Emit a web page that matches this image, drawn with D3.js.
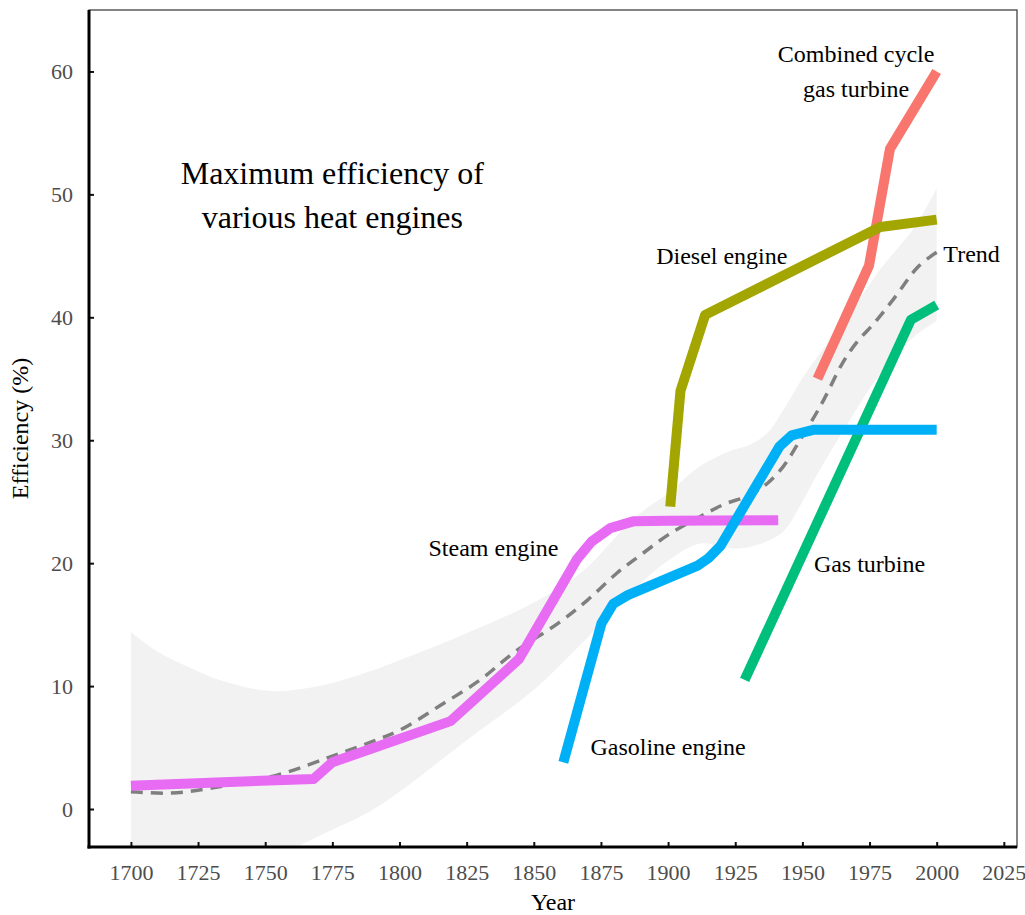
<!DOCTYPE html>
<html>
<head>
<meta charset="utf-8">
<script src="https://cdn.jsdelivr.net/npm/d3@7"></script>
<style>
	body { margin: 0; background: #fff; }
	svg text { font-family: "Liberation Serif", "Times New Roman", serif; }
</style>
</head>
<body>
<div id="main"></div>
<script>

// engine records, [year, efficiency %]
var steam = [[1700, 1.9], [1768, 2.45], [1775, 3.8], [1819, 7.15], [1844.5, 12.2], [1866, 20.3], [1871.5, 21.75], [1878.5, 22.85], [1887, 23.4], [1900, 23.45], [1941, 23.5]]
var gasoline = [[1861, 3.8], [1875.2, 15.1], [1879.6, 16.7], [1885, 17.4], [1911, 19.8], [1915, 20.4], [1919.5, 21.4], [1941.5, 29.5], [1946, 30.4], [1954, 30.85], [2000, 30.85]]
var diesel = [[1900.8, 24.6], [1904.6, 34.0], [1913.8, 40.2], [1979, 47.35], [2000, 47.95]]
var combined = [[1955.6, 35.0], [1974.8, 44.2], [1982.6, 53.7], [2000, 60.0]]
var gasTurbine = [[1928.5, 10.5], [1990.4, 39.8], [2000, 41.0]]

// smoothed trend and its band
var trend = [[1700, 1.4], [1715, 1.3], [1730, 1.7], [1755, 2.8], [1775, 4.3], [1790, 5.5], [1800, 6.4], [1815, 8.4], [1830, 10.5], [1843, 12.8], [1859, 15.1], [1870, 17.0], [1881, 19.2], [1890, 20.7], [1900, 22.3], [1912, 23.8], [1921, 24.8], [1930, 25.5], [1937, 26.5], [1943, 27.9], [1948, 29.6], [1957, 32.9], [1965, 36.3], [1970, 37.9], [1977, 39.6], [1984, 41.5], [1993, 44.1], [2000, 45.3]]
var bandYears = [1700, 1710, 1721, 1733, 1752, 1770, 1789, 1800, 1825, 1850, 1868, 1887, 1900, 1912, 1924, 1930, 1937, 1943, 1949, 1955, 1967, 1979, 1992, 2000]
var bandUpper = [14.4, 12.8, 11.6, 10.5, 9.6, 10.0, 11.2, 12.1, 14.3, 16.8, 19.3, 23.6, 25.7, 27.9, 29.2, 29.6, 30.6, 32.5, 34.7, 36.6, 40.1, 43.9, 47.4, 50.5]
var bandLower = [-11.6, -10.0, -8.6, -6.9, -4.2, -2.2, -0.2, 1.4, 5.6, 9.7, 13.5, 17.8, 20.2, 21.6, 21.2, 21.3, 21.8, 22.6, 24.6, 27.0, 31.4, 35.4, 38.5, 39.7]

var xTicks = [1700, 1725, 1750, 1775, 1800, 1825, 1850, 1875, 1900, 1925, 1950, 1975, 2000, 2025]
var yTicks = [0, 10, 20, 30, 40, 50, 60]

var seriesNames = ["Combined cycle gas turbine", "Diesel engine", "Gas turbine", "Steam engine", "Gasoline engine"]
var seriesData = [combined, diesel, gasTurbine, steam, gasoline]
var seriesColors = ["#F8766D", "#A3A500", "#00BF7D", "#E76BF3", "#00B0F6"]

// annotations: lines of text, centre year, centre value
var labels = [
	{ lines: ["Maximum efficiency of", "various heat engines"], x: 1775, y: 50, size: 32, lh: 44 },
	{ lines: ["Combined cycle", "gas turbine"], x: 1970, y: 60, size: 24, lh: 35 },
	{ lines: ["Diesel engine"], x: 1920, y: 45, size: 24, lh: 0 },
	{ lines: ["Trend"], x: 2013, y: 45.2, size: 24, lh: 0 },
	{ lines: ["Steam engine"], x: 1835, y: 21.3, size: 24, lh: 0 },
	{ lines: ["Gasoline engine"], x: 1900, y: 5.05, size: 24, lh: 0 },
	{ lines: ["Gas turbine"], x: 1975, y: 20.0, size: 24, lh: 0 }
]

var w = 1025,
	h = 915,
	pLeft = 89, pRight = 1017, pTop = 10, pBottom = 847

var x = d3.scaleLinear().domain([1684.4, 2029.9]).range([pLeft, pRight])
var y = d3.scaleLinear().domain([-3.09, 65.0]).range([pBottom, pTop])

var svg = d3.select("#main")
	.append("svg")
	.attr("width", w)
	.attr("height", h)

svg.append("clipPath")
	.attr("id", "panel")
	.append("rect")
	.attr("x", pLeft)
	.attr("y", pTop)
	.attr("width", pRight - pLeft)
	.attr("height", pBottom - pTop)

var plot = svg.append("g").attr("clip-path", "url(#panel)")

// confidence band
var band = d3.area()
	.x(function(d, i) { return x(bandYears[i]) })
	.y0(function(d, i) { return y(bandLower[i]) })
	.y1(function(d, i) { return y(bandUpper[i]) })
	.curve(d3.curveCatmullRom.alpha(0.5))

plot.append("path")
	.datum(bandYears)
	.attr("d", band)
	.attr("fill", "#F2F2F2")

var line = d3.line()
	.x(function(d) { return x(d[0]) })
	.y(function(d) { return y(d[1]) })

plot.append("path")
	.datum(trend)
	.attr("d", line.curve(d3.curveCatmullRom.alpha(0.5)))
	.attr("fill", "none")
	.attr("stroke", "#7F7F7F")
	.attr("stroke-width", 3.5)
	.attr("stroke-dasharray", "12,8")

line.curve(d3.curveLinear)

plot.selectAll(".engine")
	.data(seriesData)
	.enter()
	.append("path")
	.attr("class", "engine")
	.attr("d", line)
	.attr("fill", "none")
	.attr("stroke", function(d, i) { return seriesColors[i] })
	.attr("stroke-width", 10)
	.attr("stroke-linejoin", "round")
	.attr("stroke-linecap", "butt")

// frame: thin top/right, heavy left/bottom
svg.append("rect")
	.attr("x", pLeft)
	.attr("y", pTop)
	.attr("width", pRight - pLeft)
	.attr("height", pBottom - pTop)
	.attr("fill", "none")
	.attr("stroke", "#333")
	.attr("stroke-width", 1.2)

// axes
var xAxis = svg.append("g")
	.attr("transform", "translate(0," + pBottom + ")")
	.call(d3.axisBottom(x).tickValues(xTicks).tickSize(-5).tickPadding(17).tickFormat(d3.format("d")))
var yAxis = svg.append("g")
	.attr("transform", "translate(" + pLeft + ",0)")
	.call(d3.axisLeft(y).tickValues(yTicks).tickSize(-5).tickPadding(16))

xAxis.select(".domain").remove()
yAxis.select(".domain").remove()
svg.selectAll(".tick line").attr("stroke", "#111").attr("stroke-width", 2)
svg.selectAll(".tick text")
	.attr("fill", "#4D4D4D")
	.style("font-size", "22px")
	.style("font-family", "'Liberation Serif', serif")

svg.append("line")
	.attr("x1", pLeft).attr("x2", pLeft)
	.attr("y1", pTop).attr("y2", pBottom + 1.5)
	.attr("stroke", "#000").attr("stroke-width", 3)
svg.append("line")
	.attr("x1", pLeft - 1.5).attr("x2", pRight)
	.attr("y1", pBottom).attr("y2", pBottom)
	.attr("stroke", "#000").attr("stroke-width", 3)

// axis titles
svg.append("text")
	.attr("x", (pLeft + pRight) / 2)
	.attr("y", 910)
	.attr("text-anchor", "middle")
	.style("font-size", "24px")
	.text("Year")

svg.append("text")
	.attr("transform", "translate(28," + (pTop + pBottom) / 2 + ") rotate(-90)")
	.attr("text-anchor", "middle")
	.style("font-size", "24px")
	.text("Efficiency (%)")

// annotations
labels.forEach(function(lab) {
	var n = lab.lines.length
	var first = y(lab.y) - (n - 1) * lab.lh / 2 + lab.size * 0.35
	var t = svg.append("text")
		.attr("text-anchor", "middle")
		.style("font-size", lab.size + "px")
		.attr("fill", "#000")
	lab.lines.forEach(function(s, i) {
		t.append("tspan")
			.attr("x", x(lab.x))
			.attr("y", first + i * lab.lh)
			.text(s)
	})
})

</script>
</body>
</html>
